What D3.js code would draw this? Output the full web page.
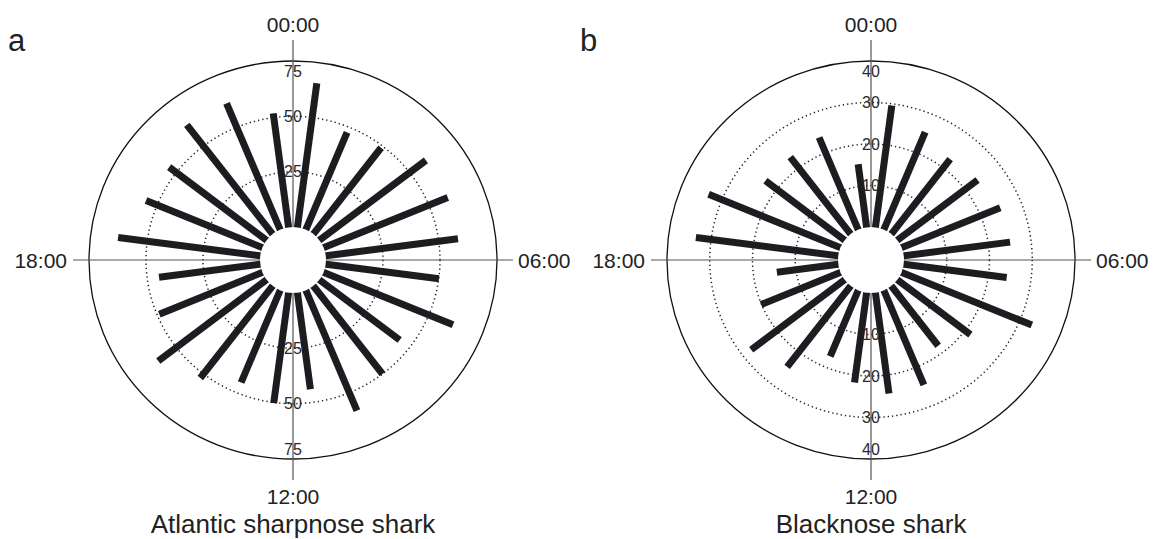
<!DOCTYPE html>
<html>
<head>
<meta charset="utf-8">
<script src="https://cdn.jsdelivr.net/npm/d3@7"></script>
<style>
  body { margin: 0; background: #fff; }
  svg { display: block; }
  text { font-family: "Liberation Sans", Arial, sans-serif; }
</style>
</head>
<body>
<div id="chart"></div>
<script>
var width = 1156,
  height = 539;

// hour bins (start of each hour), one bar per bin
var hours = [0, 1, 2, 3, 4, 5, 6, 7, 8, 9, 10, 11, 12, 13, 14, 15, 16, 17, 18, 19, 20, 21, 22, 23];
var clockLabels = ["00:00", "06:00", "12:00", "18:00"];

var sharpnose = [65.6, 47.5, 49, 59, 59, 58.5, 50.1, 61.5, 44.5, 50, 58.8, 44,
  50.3, 45, 52.3, 60, 49, 44.8, 62.9, 55.3, 54, 62, 61.7, 51.9];
var sharpnoseTicks = [25, 50, 75];

var blacknose = [29.6, 25.4, 22.7, 23.7, 25, 25.1, 24.3, 33, 21.6, 18.1, 24.6, 24.5,
  21.8, 17.2, 24.5, 27.6, 20.1, 14.5, 33.6, 33.4, 23.4, 23.3, 24, 15.3];
var blacknoseTicks = [10, 20, 30, 40];

var svg = d3
  .select("#chart")
  .append("svg")
  .attr("width", width)
  .attr("height", height);

function drawPanel(opt) {
  var g = svg.append("g").attr("transform", "translate(" + opt.cx + "," + opt.cy + ")");
  var maxV = opt.ticks[opt.ticks.length - 1];

  // slightly wider than tall, like the source figure
  var rX = d3.scaleLinear().domain([0, maxV]).range([33, 204]);
  var rY = d3.scaleLinear().domain([0, maxV]).range([33, 199]);
  var angle = d3.scaleLinear().domain([0, 24]).range([0, 2 * Math.PI]);

  // grid circles
  g.selectAll(".grid")
    .data(opt.ticks)
    .enter()
    .append("ellipse")
    .attr("rx", function (d) { return rX(d); })
    .attr("ry", function (d) { return rY(d); })
    .attr("fill", "none")
    .attr("stroke", function (d) { return d === maxV ? "#111" : "#222"; })
    .attr("stroke-width", function (d) { return d === maxV ? 1.3 : 1.5; })
    .attr("stroke-dasharray", function (d) { return d === maxV ? null : "1.3,3"; });

  // axis cross
  var L = 220;
  g.append("line").attr("x1", 0).attr("x2", 0).attr("y1", -L).attr("y2", L)
    .attr("stroke", "#555").attr("stroke-width", 1.2);
  g.append("line").attr("x1", -L).attr("x2", L).attr("y1", 0).attr("y2", 0)
    .attr("stroke", "#555").attr("stroke-width", 1.2);

  // bars
  g.selectAll(".bar")
    .data(hours)
    .enter()
    .append("line")
    .attr("class", "bar")
    .attr("x1", 0)
    .attr("y1", 0)
    .attr("x2", function (h, i) { return rX(opt.values[i]) * Math.sin(angle(h + 0.5)); })
    .attr("y2", function (h, i) { return -rY(opt.values[i]) * Math.cos(angle(h + 0.5)); })
    .attr("stroke", "#1d1d21")
    .attr("stroke-width", 7)
    .attr("stroke-linecap", "butt");

  // empty centre
  g.append("ellipse").attr("rx", rX(0)).attr("ry", rY(0)).attr("fill", "#fff");

  // radial tick labels, above and below centre
  [-1, 1].forEach(function (s) {
    g.selectAll(".tl" + s)
      .data(opt.ticks)
      .enter()
      .append("text")
      .attr("x", 0)
      .attr("y", function (d) { return s * (d === maxV ? rY(d) - 10 : rY(d)); })
      .attr("dy", "0.36em")
      .attr("text-anchor", "middle")
      .style("font-size", "16px")
      .style("fill", "#2a2a2a")
      .text(function (d) { return d; });
  });

  // clock labels
  var clk = [
    { t: clockLabels[0], x: 0, y: -228, a: "middle" },
    { t: clockLabels[1], x: 225, y: 7.5, a: "start" },
    { t: clockLabels[2], x: 0, y: 244, a: "middle" },
    { t: clockLabels[3], x: -226, y: 7.5, a: "end" }
  ];
  g.selectAll(".clk")
    .data(clk)
    .enter()
    .append("text")
    .attr("x", function (d) { return d.x; })
    .attr("y", function (d) { return d.y; })
    .attr("text-anchor", function (d) { return d.a; })
    .style("font-size", "21px")
    .style("fill", "#222")
    .text(function (d) { return d.t; });

  g.append("text")
    .attr("x", 0)
    .attr("y", 273)
    .attr("text-anchor", "middle")
    .style("font-size", "26px")
    .style("fill", "#222")
    .text(opt.title);

  svg.append("text")
    .attr("x", opt.letterX)
    .attr("y", 51)
    .style("font-size", "31px")
    .style("fill", "#222")
    .text(opt.letter);
}

drawPanel({
  cx: 293, cy: 260, values: sharpnose, ticks: sharpnoseTicks,
  title: "Atlantic sharpnose shark", letter: "a", letterX: 8
});
drawPanel({
  cx: 871, cy: 260, values: blacknose, ticks: blacknoseTicks,
  title: "Blacknose shark", letter: "b", letterX: 580
});
</script>
</body>
</html>
